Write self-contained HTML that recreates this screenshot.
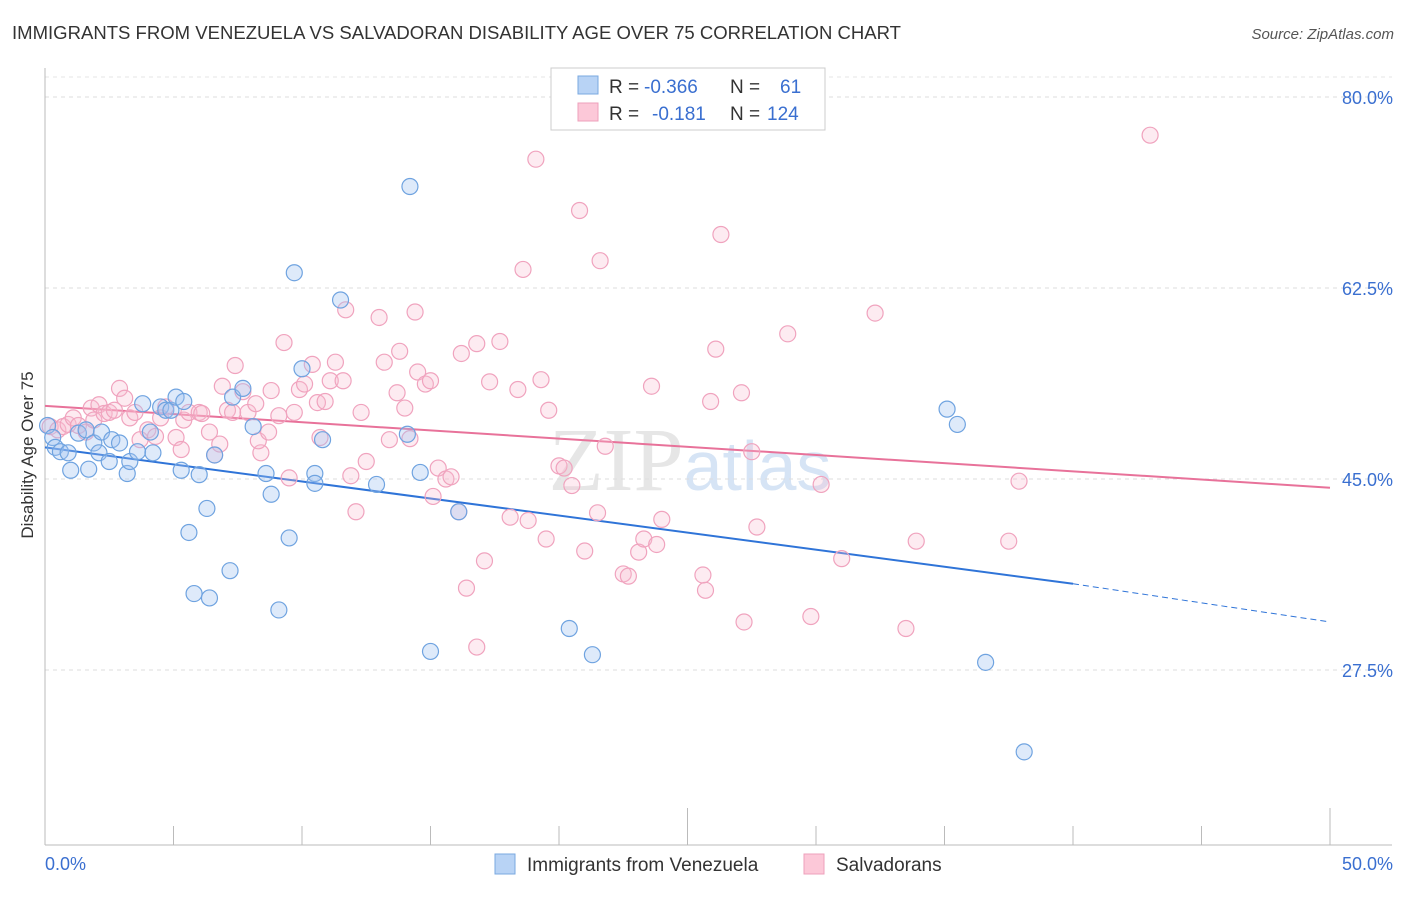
<!DOCTYPE html>
<html><head><meta charset="utf-8"><style>
body{margin:0;background:#fff;font-family:"Liberation Sans",sans-serif;}
</style></head><body>
<svg id="chart" width="1406" height="892" xmlns="http://www.w3.org/2000/svg" font-family="Liberation Sans, sans-serif">
<text x="12" y="39" font-size="18" fill="#333" textLength="889" lengthAdjust="spacingAndGlyphs">IMMIGRANTS FROM VENEZUELA VS SALVADORAN DISABILITY AGE OVER 75 CORRELATION CHART</text>
<text x="1394" y="39" font-size="15" fill="#555" text-anchor="end" font-style="italic">Source: ZipAtlas.com</text>
<text x="690" y="490" font-size="90" fill="#e6e6e6" text-anchor="middle" font-family="Liberation Serif, serif">ZIP<tspan fill="#d6e4f5" font-family="Liberation Sans, sans-serif" font-size="70">atlas</tspan></text>
<text transform="translate(33,455) rotate(-90)" font-size="17" fill="#333" text-anchor="middle">Disability Age Over 75</text>
<g id="grid"></g><g id="axes"></g><g id="trends"></g><g id="pts"></g>
<g>
<rect x="551" y="68" width="274" height="62" fill="#fff" stroke="#ccc"/>
<rect x="578" y="76" width="20" height="18" fill="#b8d3f5" stroke="#7aa8e0"/>
<text x="609" y="93" font-size="19" fill="#333">R = <tspan fill="#3a6fd0" x="644">-0.366</tspan><tspan x="730">N =</tspan><tspan fill="#3a6fd0" x="780">61</tspan></text>
<rect x="578" y="103" width="20" height="18" fill="#fcc8d8" stroke="#eea0bb"/>
<text x="609" y="120" font-size="19" fill="#333">R = <tspan fill="#3a6fd0" x="652">-0.181</tspan><tspan x="730">N =</tspan><tspan fill="#3a6fd0" x="767">124</tspan></text>
</g>
<g>
<rect x="495" y="854" width="20" height="20" fill="#b8d3f5" stroke="#7aa8e0"/>
<text x="527" y="871" font-size="19" fill="#333">Immigrants from Venezuela</text>
<rect x="804" y="854" width="20" height="20" fill="#fcc8d8" stroke="#eea0bb"/>
<text x="836" y="871" font-size="19" fill="#333">Salvadorans</text>
</g>
</svg>
<script>
const blueX=[0.1,0.3,0.4,0.6,0.9,1.0,1.3,1.6,1.7,1.9,2.1,2.2,2.5,2.6,2.9,3.2,3.3,3.6,3.8,4.2,4.1,4.5,4.7,4.9,5.1,5.3,5.4,5.6,5.8,6.0,6.3,6.4,6.6,7.2,7.3,7.7,8.1,8.6,8.8,9.1,9.5,9.7,10.0,10.5,10.5,10.8,11.5,12.9,14.1,14.2,14.6,15.0,16.1,20.4,21.3,35.1,35.5,36.6,38.1];
const blueY=[49.9,48.8,47.9,47.5,47.4,45.8,49.2,49.5,45.9,48.3,47.4,49.3,46.6,48.6,48.3,45.5,46.6,47.5,51.9,47.4,49.3,51.6,51.3,51.3,52.5,45.8,52.1,40.1,34.5,45.4,42.3,34.1,47.2,36.6,52.5,53.3,49.8,45.5,43.6,33.0,39.6,63.9,55.1,45.5,44.6,48.6,61.4,44.5,49.1,71.8,45.6,29.2,42.0,31.3,28.9,51.4,50.0,28.2,20.0];
const pinkX=[0.2,0.5,0.7,0.9,1.1,1.3,1.6,1.8,1.9,2.1,2.3,2.5,2.7,2.9,3.1,3.3,3.5,3.7,4.0,4.3,4.5,4.7,5.1,5.3,5.4,5.6,6.0,6.1,6.4,6.6,6.8,6.9,7.1,7.3,7.4,7.7,7.9,8.2,8.4,8.3,8.7,8.8,9.1,9.3,9.5,9.7,9.9,10.1,10.4,10.6,10.7,10.9,11.1,11.3,11.6,11.7,11.9,12.1,12.3,12.5,13.0,13.2,13.4,13.7,13.8,14.0,14.2,14.4,14.5,14.8,15.0,15.1,15.3,15.6,15.8,16.1,16.2,16.4,16.8,16.8,17.1,17.3,17.7,18.1,18.4,18.6,18.8,19.1,19.3,19.5,19.6,20.0,20.2,20.5,20.8,21.0,21.5,21.6,21.8,22.5,22.7,23.1,23.3,23.6,23.8,24.0,25.6,25.7,25.9,26.1,26.3,27.1,27.2,27.5,27.7,28.9,29.8,30.2,31.0,32.3,33.5,33.9,37.5,37.9,43.0];
const pinkY=[49.8,49.5,49.8,50.0,50.6,49.9,49.3,51.5,50.4,51.8,51.0,51.1,51.3,53.3,52.4,50.6,51.1,48.6,49.5,48.9,50.6,51.6,48.8,47.7,50.4,51.1,51.1,51.0,49.3,47.2,48.2,53.5,51.3,51.1,55.4,53.0,51.1,51.9,47.4,48.5,49.3,53.1,50.8,57.5,45.1,51.1,53.2,53.7,55.5,52.0,48.8,52.1,54.0,55.7,54.0,60.5,45.3,42.0,51.1,46.6,59.8,55.7,48.6,52.9,56.7,51.5,48.7,60.3,54.8,53.7,54.0,43.4,46.0,45.0,45.2,42.0,56.5,35.0,57.4,29.6,37.5,53.9,57.6,41.5,53.2,64.2,41.2,74.3,54.1,39.5,51.3,46.2,46.0,44.4,69.6,38.4,41.9,65.0,48.0,36.3,36.1,38.3,39.5,53.5,39.0,41.3,36.2,34.8,52.1,56.9,67.4,52.9,31.9,47.5,40.6,58.3,32.4,44.5,37.7,60.2,31.3,39.3,39.3,44.8,76.5];
const blueTrend=[47.9,35.4,31.9]; // values at x=0, 40, 50
const pinkTrend=[51.7,44.2]; // values at x=0, 50
const yTicks=[80,62.5,45,27.5];
const xTicks=[0,5,10,15,20,25,30,35,40,45,50];
const NS='http://www.w3.org/2000/svg';
const sx=v=>45+v*25.7, sy=v=>97+(80-v)*10.914;
function mk(tag,attrs,parent){const e=document.createElementNS(NS,tag);for(const k in attrs)e.setAttribute(k,attrs[k]);parent.appendChild(e);return e;}
const grid=document.getElementById('grid'),axes=document.getElementById('axes'),tr=document.getElementById('trends'),pts=document.getElementById('pts');
yTicks.forEach(t=>{
 const l=mk('line',{x1:45,x2:1392,y1:sy(t),y2:sy(t),stroke:'#ddd','stroke-dasharray':'4,4'},grid);
 
 
 const tx=mk('text',{x:1393,y:sy(t)+7,'font-size':18,fill:'#3a6fd0','text-anchor':'end'},grid);
 tx.textContent=t.toFixed(1)+'%';
 
 
});
mk('line',{x1:45,x2:1392,y1:77,y2:77,stroke:'#e4e4e4','stroke-dasharray':'4,4'},grid);
const ya=mk('line',{x1:45,x2:45,y1:68,y2:845,stroke:'#bbb'},axes);


const xa=mk('line',{x1:45,x2:1392,y1:845,y2:845,stroke:'#bbb'},axes);


xTicks.forEach(t=>{
 if(t===0)return;
 const tk=mk('line',{x1:sx(t),x2:sx(t),y1:(t%25===0)?808:826,y2:845,stroke:'#bbb'},axes);
 
 
});
[[0,'start',45],[50,'end',1393]].forEach(([v,a,x])=>{
 const tx=mk('text',{x:x,y:870,'font-size':18,fill:'#3a6fd0','text-anchor':a},axes);
 tx.textContent=v.toFixed(1)+'%';
 
 
});
function dots(X,Y,fill,stroke,name){X.forEach((x,i)=>{
 const c=mk('circle',{cx:sx(x),cy:sy(Y[i]),r:8,fill:fill,stroke:stroke,'stroke-width':1.2},pts);
 
 
});}
dots(pinkX,pinkY,'rgba(248,190,210,0.3)','#f0a3be','salvadoran-point');
dots(blueX,blueY,'rgba(160,196,240,0.35)','#6fa3e0','venezuela-point');
const bl=mk('line',{x1:sx(0),y1:sy(blueTrend[0]),x2:sx(40),y2:sy(blueTrend[1]),stroke:'#2f74d8','stroke-width':2},tr);


const bd=mk('line',{x1:sx(40),y1:sy(blueTrend[1]),x2:sx(50),y2:sy(blueTrend[2]),stroke:'#2f74d8','stroke-width':1,'stroke-dasharray':'6,4'},tr);


const pl=mk('line',{x1:sx(0),y1:sy(pinkTrend[0]),x2:sx(50),y2:sy(pinkTrend[1]),stroke:'#e8729a','stroke-width':2},tr);


</script>
</body></html>
